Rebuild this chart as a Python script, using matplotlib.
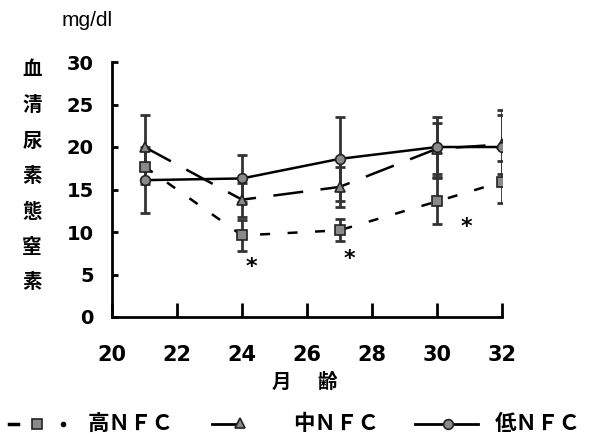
import matplotlib
matplotlib.use("Agg")
import matplotlib.pyplot as plt
from matplotlib.lines import Line2D

months = [21, 24, 27, 30, 32]
high = [17.7, 9.6, 10.2, 13.6, 15.9]
high_err = [2.0, 1.8, 1.3, 2.7, 2.5]
mid = [20.0, 13.8, 15.3, 19.8, 20.3]
mid_err = [3.8, 2.0, 2.4, 3.0, 3.5]
low = [16.1, 16.3, 18.6, 20.0, 20.0]
low_err = [3.9, 2.8, 4.9, 3.5, 4.4]
star_x = [24.3, 27.3, 30.9]
star_y = [5.9, 6.8, 10.6]
labels = ["高ＮＦＣ", "中ＮＦＣ", "低ＮＦＣ"]
ylabel_chars = ["血", "清", "尿", "素", "態", "窒", "素"]
xlabel_chars = ["月", "齢"]

cjk = ["Noto Sans CJK JP", "DejaVu Sans"]
num = ["DejaVu Sans"]
W, H = 594, 437


def px(x, y):
    return x / W, 1 - y / H


fig = plt.figure(figsize=(5.94, 4.37), dpi=100)
ax = fig.add_axes([112/W, 1-317/H, 390/W, 255/H])

lw = 1.8
mk = dict(ms=7, mfc='#8a8a8a', mec='#222222', mew=1.2)
for vals, errs in [(high, high_err), (mid, mid_err), (low, low_err)]:
    ax.errorbar(months, vals, yerr=errs, fmt='none', ecolor='#333333',
                elinewidth=2, capsize=3.5, capthick=2)

ax.plot(months, high, color='black', lw=lw, ls=(0, (4, 7)), marker='s', **mk)
ax.plot(months, mid, color='black', lw=lw, ls=(0, (12, 7)), marker='^', **mk)
ax.plot(months, low, color='black', lw=lw, ls='-', marker='o', **mk)

for x, y in zip(star_x, star_y):
    ax.text(x, y, "*", ha='center', va='center', fontsize=16, fontweight='bold', family=num)

ax.set_xlim(20, 32)
ax.set_ylim(0, 30)
ax.set_xticks([20, 22, 24, 26, 28, 30, 32])
ax.set_yticks([0, 5, 10, 15, 20, 25, 30])
for s in ['top', 'right']:
    ax.spines[s].set_visible(False)
for s in ['left', 'bottom']:
    ax.spines[s].set_linewidth(2)
ax.tick_params(axis='y', direction='in', length=4, width=2, pad=13)
ax.tick_params(axis='x', direction='in', length=10, width=2, pad=20)
for lab in ax.get_yticklabels():
    lab.set_fontsize(14)
    lab.set_fontweight('bold')
    lab.set_family(num)
for lab in ax.get_xticklabels():
    lab.set_fontsize(15)
    lab.set_fontweight('bold')
    lab.set_family(num)

fig.text(*px(87, 20), "mg/dl", fontsize=15, family=["Liberation Sans"], ha='center', va='center')
for i, ch in enumerate(ylabel_chars):
    fig.text(*px(32, 70 + 35.5 * i), ch, fontsize=14, fontweight='bold', family=cjk,
             ha='center', va='center')
for ch, x in zip(xlabel_chars, [281, 327]):
    fig.text(*px(x, 382), ch, fontsize=14, fontweight='bold', family=cjk,
             ha='center', va='center')

# legend row
ly = 424
tf = fig.transFigure
legend_text_x = [88, 293, 495]
fig.add_artist(Line2D(*zip(px(9, ly), px(18, ly)), transform=tf, color='black', lw=2.5))
fig.add_artist(Line2D(*zip(px(37, ly)), transform=tf, marker='s', ls='none', **mk))
fig.add_artist(Line2D(*zip(px(63, ly)), transform=tf, marker='o', ls='none', ms=3, color='black'))
fig.add_artist(Line2D(*zip(px(212, ly), px(236, ly)), transform=tf, color='black', lw=2))
fig.add_artist(Line2D(*zip(px(240, ly - 1)), transform=tf, marker='^', ls='none', **mk))
fig.add_artist(Line2D(*zip(px(415, ly), px(478, ly)), transform=tf, color='black', lw=2))
fig.add_artist(Line2D(*zip(px(448, ly)), transform=tf, marker='o', ls='none', **mk))
for lab, x in zip(labels, legend_text_x):
    fig.text(*px(x, ly), lab, fontsize=15.5, fontweight='bold', family=cjk,
             ha='left', va='center')

fig.savefig("out.png", dpi=100)
